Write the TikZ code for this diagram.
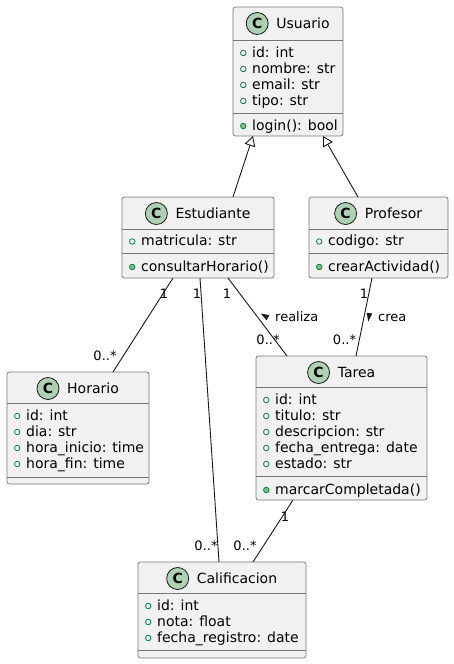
\documentclass[tikz,border=0pt]{standalone}
\usepackage{fontspec}
\setmainfont{DejaVu Sans}
\usepackage{tikz}
\usetikzlibrary{arrows.meta, positioning}
\definecolor{umlfill}{RGB}{241, 241, 241}
\definecolor{umlline}{RGB}{118, 118, 118}
\definecolor{umldark}{RGB}{24, 24, 24}
\definecolor{umlicon}{RGB}{173, 209, 178}
\definecolor{umlvis}{RGB}{3, 128, 72}
\definecolor{umlvisfill}{RGB}{132, 190, 132}
\tikzstyle{classbox} = [rectangle, rounded corners=2.5pt, draw=umlline, fill=umlfill, line width=0.7pt, anchor=north west, inner sep=0pt, outer sep=0pt]
\tikzstyle{classname} = [anchor=base, inner sep=0pt, font=\fontsize{14}{16}\selectfont]
\tikzstyle{classicon} = [circle, draw=umldark, fill=umlicon, line width=0.8pt, minimum size=22pt, inner sep=0pt, font=\fontsize{14}{16}\selectfont\bfseries]
\tikzstyle{member} = [anchor=base west, inner sep=0pt, text height=10pt, text depth=2pt, font=\fontsize{14}{16}\selectfont]
\tikzstyle{attr} = [member, label={[circle, draw=umlvis, line width=0.8pt, minimum size=5.5pt, inner sep=0pt, outer sep=0pt, label distance=6pt]left:{}}]
\tikzstyle{meth} = [member, label={[circle, draw=umlvis, fill=umlvisfill, line width=0.8pt, minimum size=5.5pt, inner sep=0pt, outer sep=0pt, label distance=6pt]left:{}}]
\tikzstyle{sep} = [draw=umlline, line width=0.7pt]
\tikzstyle{arrow} = [line width=0.9pt, umldark]
\tikzstyle{inherit} = [arrow, -{Triangle[open, length=10pt, width=11pt]}]
\tikzstyle{mult} = [anchor=base, inner sep=0pt, font=\fontsize{13}{15}\selectfont]
\tikzstyle{dirmark} = [fill=umldark]

\begin{document}
\begin{tikzpicture}[x=1pt, y=-1pt]
\useasboundingbox (0,0) rectangle (454,664);

% Usuario
\node[classbox, minimum width=110pt, minimum height=129pt] (usuario) at (233,7) {};
\node[classname] (usuario-name) at (288,28) {\hspace*{30pt}Usuario};
\node[classicon] (usuario-icon) at ([xshift=11pt, yshift=4.5pt]usuario-name.base west) {C};
\draw[sep] (usuario.west |- 0,40) -- (usuario.east |- 0,40);
\draw[sep] (usuario.west |- 0,113) -- (usuario.east |- 0,113);
\node[attr] (usuario-id) at (252,57) {id: int};
\node[attr] (usuario-nombre) at (252,73) {nombre: str};
\node[attr] (usuario-email) at (252,89) {email: str};
\node[attr] (usuario-tipo) at (252,105) {tipo: str};
\node[meth] (usuario-login) at (252,130) {login(): bool};

% Estudiante
\node[classbox, minimum width=152pt, minimum height=81pt] (estudiante) at (122,197) {};
\node[classname] (estudiante-name) at (198,218) {\hspace*{30pt}Estudiante};
\node[classicon] (estudiante-icon) at ([xshift=11pt, yshift=4.5pt]estudiante-name.base west) {C};
\draw[sep] (estudiante.west |- 0,229) -- (estudiante.east |- 0,229);
\draw[sep] (estudiante.west |- 0,253) -- (estudiante.east |- 0,253);
\node[attr] (estudiante-matricula) at (141,245.5) {matricula: str};
\node[meth] (estudiante-consultar) at (141,271) {consultarHorario()};

% Profesor
\node[classbox, minimum width=139pt, minimum height=81pt] (profesor) at (309,197) {};
\node[classname] (profesor-name) at (378.5,218) {\hspace*{30pt}Profesor};
\node[classicon] (profesor-icon) at ([xshift=11pt, yshift=4.5pt]profesor-name.base west) {C};
\draw[sep] (profesor.west |- 0,229) -- (profesor.east |- 0,229);
\draw[sep] (profesor.west |- 0,253) -- (profesor.east |- 0,253);
\node[attr] (profesor-codigo) at (328,245.5) {codigo: str};
\node[meth] (profesor-crear) at (328,271) {crearActividad()};

% Horario
\node[classbox, minimum width=142pt, minimum height=112pt] (horario) at (7,372) {};
\node[classname] (horario-name) at (78,393) {\hspace*{30pt}Horario};
\node[classicon] (horario-icon) at ([xshift=11pt, yshift=4.5pt]horario-name.base west) {C};
\draw[sep] (horario.west |- 0,403) -- (horario.east |- 0,403);
\draw[sep] (horario.west |- 0,477) -- (horario.east |- 0,477);
\node[attr] (horario-id) at (26,420) {id: int};
\node[attr] (horario-dia) at (26,436) {dia: str};
\node[attr] (horario-inicio) at (26,452) {hora\_inicio: time};
\node[attr] (horario-fin) at (26,468) {hora\_fin: time};

% Tarea
\node[classbox, minimum width=171pt, minimum height=144pt] (tarea) at (256,356) {};
\node[classname] (tarea-name) at (341.5,377) {\hspace*{30pt}Tarea};
\node[classicon] (tarea-icon) at ([xshift=11pt, yshift=4.5pt]tarea-name.base west) {C};
\draw[sep] (tarea.west |- 0,387) -- (tarea.east |- 0,387);
\draw[sep] (tarea.west |- 0,476) -- (tarea.east |- 0,476);
\node[attr] (tarea-id) at (275,404) {id: int};
\node[attr] (tarea-titulo) at (275,420) {titulo: str};
\node[attr] (tarea-descripcion) at (275,436) {descripcion: str};
\node[attr] (tarea-entrega) at (275,452) {fecha\_entrega: date};
\node[attr] (tarea-estado) at (275,468) {estado: str};
\node[meth] (tarea-marcar) at (275,494) {marcarCompletada()};

% Calificacion
\node[classbox, minimum width=168pt, minimum height=96pt] (calificacion) at (138,562) {};
\node[classname] (calificacion-name) at (222,583) {\hspace*{30pt}Calificacion};
\node[classicon] (calificacion-icon) at ([xshift=11pt, yshift=4.5pt]calificacion-name.base west) {C};
\draw[sep] (calificacion.west |- 0,593) -- (calificacion.east |- 0,593);
\draw[sep] (calificacion.west |- 0,650) -- (calificacion.east |- 0,650);
\node[attr] (calificacion-id) at (157,610) {id: int};
\node[attr] (calificacion-nota) at (157,626) {nota: float};
\node[attr] (calificacion-registro) at (157,642) {fecha\_registro: date};

% relations
\draw[inherit] ([xshift=111pt]estudiante.north west) -- ([xshift=20pt]usuario.south west);
\draw[inherit] ([xshift=49pt]profesor.north west) -- ([xshift=90pt]usuario.south west);
\draw[arrow] ([xshift=51pt]estudiante.south west) -- ([xshift=106pt]horario.north west);
\draw[arrow] ([xshift=78pt]estudiante.south west) -- ([xshift=81pt]calificacion.north west);
\draw[arrow] ([xshift=106pt]estudiante.south west) -- ([xshift=31pt]tarea.north west);
\draw[arrow] ([xshift=63pt]profesor.south west) -- ([xshift=100pt]tarea.north west);
\draw[arrow] ([xshift=37pt]tarea.south west) -- ([xshift=115pt]calificacion.north west);

% multiplicities and labels
\node[mult] (horario-one) at (164,298) {1};
\node[mult] (horario-many) at (105,360) {0..*};
\node[mult] (calificacion-one) at (197,298) {1};
\node[mult] (calificacion-many) at (206,550) {0..*};
\node[mult] (realiza-one) at (227,298) {1};
\node[mult] (realiza-many) at (268,344) {0..*};
\node[mult, anchor=base west] (realiza) at (275,321) {realiza};
\coordinate (realiza-dir) at (265,316);
\fill[dirmark] ([shift={(-4.3,-2.5)}]realiza-dir) -- ([shift={(1.5,4.2)}]realiza-dir) -- ([shift={(4.4,-0.8)}]realiza-dir) -- cycle;
\node[mult] (crea-one) at (364,298) {1};
\node[mult] (crea-many) at (344.5,344) {0..*};
\node[mult, anchor=base west] (crea) at (378,321) {crea};
\coordinate (crea-dir) at (369,316.5);
\fill[dirmark] ([shift={(-0.7,5)}]crea-dir) -- ([shift={(3.3,-3)}]crea-dir) -- ([shift={(-2.4,-3.8)}]crea-dir) -- cycle;
\node[mult] (marcar-one) at (285,521) {1};
\node[mult] (marcar-many) at (245,550) {0..*};
\end{tikzpicture}
\end{document}
